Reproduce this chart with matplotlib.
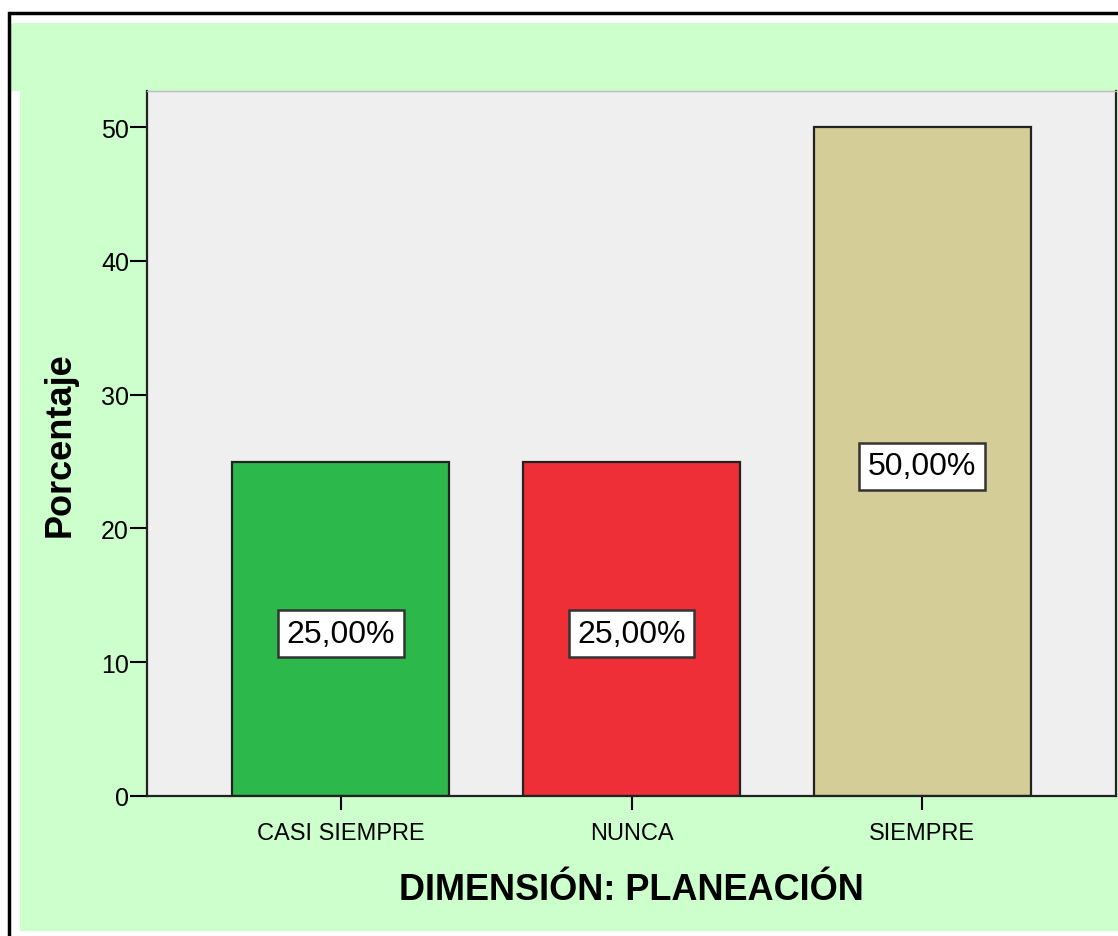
import matplotlib.pyplot as plt
from matplotlib.patches import Rectangle

categories = ["CASI SIEMPRE", "NUNCA", "SIEMPRE"]
percentages = [25.0, 25.0, 50.0]
bar_colors = ["#2DB84B", "#EF2F38", "#D4CD98"]

plt.rcParams["font.family"] = ["Liberation Sans", "DejaVu Sans"]

fig = plt.figure(figsize=(11.18, 9.37), dpi=100)
fig.patch.set_facecolor("white")

W, H = 1118, 937
# green chart area + outer frame
fig.patches.append(Rectangle((10 / W, 1 - 932 / H), 1, (932 - 24) / H,
                             transform=fig.transFigure, facecolor="#CCFFCC",
                             edgecolor="none", zorder=-2))
fig.patches.append(Rectangle((10 / W, 1 - 932 / H), 10 / W, (932 - 92) / H,
                             transform=fig.transFigure, facecolor="white",
                             edgecolor="none", zorder=-2))
fig.patches.append(Rectangle((9 / W, -0.01), 1.2, (937 - 14) / H + 0.01,
                             transform=fig.transFigure, facecolor="none",
                             edgecolor="black", linewidth=2.5, zorder=-1))

ax = fig.add_axes([147 / W, 1 - 797 / H, (1116 - 147) / W, (797 - 92) / H])
ax.set_zorder(5)
ax.set_facecolor("#EFEFEF")

x = range(len(categories))
ax.bar(x, percentages, width=0.746, color=bar_colors, edgecolor="#222222",
       linewidth=1.6, zorder=2)

for xi, v in zip(x, percentages):
    ax.annotate(f"{v:.2f}%".replace(".", ","), xy=(xi, v / 2), xytext=(0, -3.5),
                textcoords="offset points", ha="center", va="center",
                fontsize=23, color="black", zorder=3,
                bbox=dict(boxstyle="square,pad=0.27", facecolor="white",
                          edgecolor="#333333", linewidth=1.8))

ax.set_xlim(-0.667, 2.667)
ax.set_ylim(0, 52.7)
ax.set_yticks([0, 10, 20, 30, 40, 50])
ax.set_xticks(list(x))
ax.set_xticklabels(categories)

ax.tick_params(axis="y", length=12, width=1.5, labelsize=18, pad=1)
ax.tick_params(axis="x", length=10, width=1.5, labelsize=17, pad=9)

for side in ["left", "bottom", "right"]:
    ax.spines[side].set_linewidth(1.6)
    ax.spines[side].set_color("#222222")
ax.spines["top"].set_color("#BBBBBB")
ax.spines["top"].set_linewidth(1)

ax.set_ylabel("Porcentaje", fontsize=26, fontweight="bold", va="center")
ax.yaxis.set_label_coords(-0.0898, 0.5)
ax.set_xlabel("DIMENSIÓN: PLANEACIÓN", fontsize=26, fontweight="bold", va="center")
ax.xaxis.set_label_coords(0.5, -0.132)

plt.savefig("out.png", dpi=100)
